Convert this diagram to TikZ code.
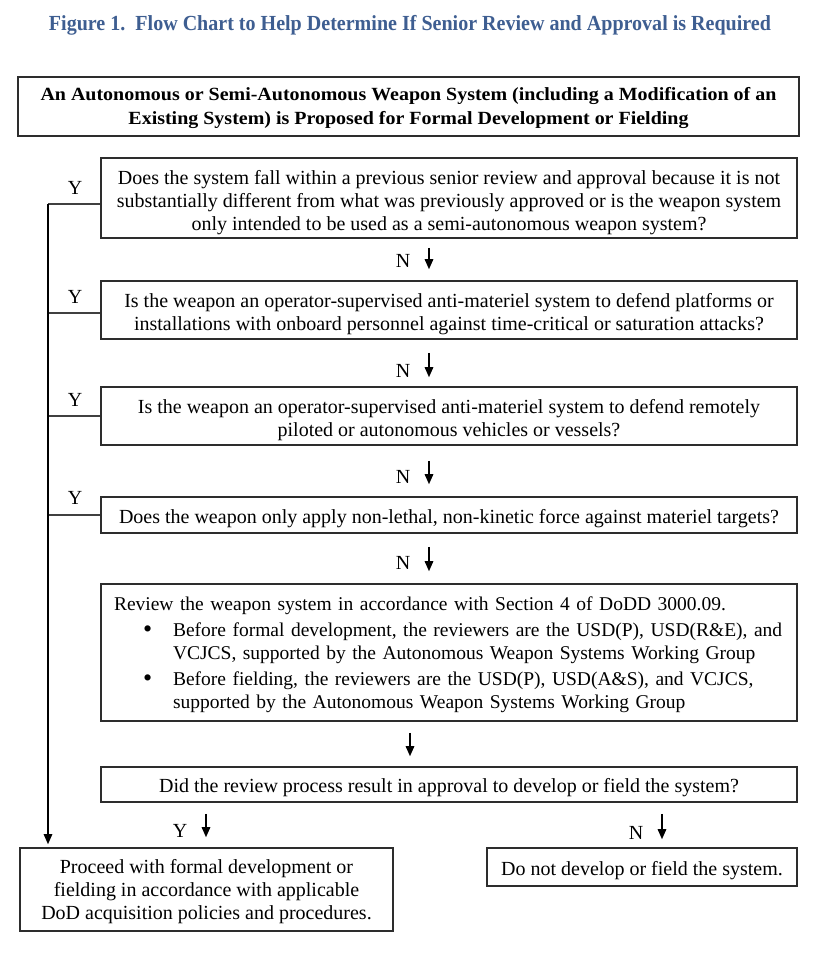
\documentclass[tikz,border=0pt]{standalone}
\usepackage{fontspec}
\setmainfont{Liberation Serif}
\usepackage{graphicx}
\usetikzlibrary{arrows.meta}
\definecolor{titleblue}{RGB}{62,94,145}
\definecolor{boxline}{RGB}{45,45,45}
\newsavebox\lineboxA
\newdimen\lineW
\begin{document}
\sbox\lineboxA{\fontsize{18.6}{23}\selectfont\bfseries An Autonomous or Semi-Autonomous Weapon System (including a Modification of an}%
\lineW=\wd\lineboxA
\pgfmathsetmacro\bfac{736/\lineW}%
\begin{tikzpicture}[x=1pt,y=-1pt,
  box/.style={draw=boxline, line width=1.6pt, inner sep=0pt},
  txt/.style={inner sep=0pt, align=center, font=\fontsize{20}{23}\selectfont},
  arr/.style={-{Triangle[length=10pt,width=8.5pt]}, line width=1.4pt},
  yline/.style={draw=black!75, line width=1.3pt},
  lbl/.style={font=\fontsize{20}{23}\selectfont, inner sep=0pt}]
\useasboundingbox (0,0) rectangle (820,954);

\node[inner sep=0pt, anchor=base, text=titleblue, font=\fontsize{21.5}{24}\selectfont\bfseries] (title) at (410,30)
  {\resizebox{722pt}{\height}{Figure 1.\ \ Flow Chart to Help Determine If Senior Review and Approval is Required}};

% boxes
\node[box, minimum width=781, minimum height=59] (b1) at (408.5,106.5) {};
\node[box, minimum width=696, minimum height=80] (b2) at (449,198) {};
\node[box, minimum width=696, minimum height=58] (b3) at (449,310) {};
\node[box, minimum width=696, minimum height=58] (b4) at (449,416) {};
\node[box, minimum width=696, minimum height=36] (b5) at (449,515) {};
\node[box, minimum width=696, minimum height=137] (b6) at (449,652.5) {};
\node[box, minimum width=696, minimum height=35] (b7) at (449,784.5) {};
\node[box, minimum width=373, minimum height=83] (b8) at (206.5,889.5) {};
\node[box, minimum width=310, minimum height=38] (b9) at (642,867) {};

% texts
\node[txt, font=\fontsize{18.6}{23.3}\selectfont\bfseries] (t1) at ([yshift=-1.5pt]b1.center)
  {\scalebox{\bfac}[1]{An Autonomous or Semi-Autonomous Weapon System (including a Modification of an}\\
   \scalebox{\bfac}[1]{Existing System) is Proposed for Formal Development or Fielding}};

\node[txt] (t2) at ([yshift=-4.5pt]b2.center)
  {Does the system fall within a previous senior review and approval because it is not\\
   substantially different from what was previously approved or is the weapon system\\
   only intended to be used as a semi-autonomous weapon system?};

\node[txt] (t3) at ([yshift=-4pt]b3.center)
  {Is the weapon an operator-supervised anti-materiel system to defend platforms or\\
   installations with onboard personnel against time-critical or saturation attacks?};

\node[txt] (t4) at ([yshift=-4pt]b4.center)
  {Is the weapon an operator-supervised anti-materiel system to defend remotely\\
   piloted or autonomous vehicles or vessels?};

\node[txt] (t5) at ([yshift=-4pt]b5.center)
  {Does the weapon only apply non-lethal, non-kinetic force against materiel targets?};

\node[txt, align=left, text width=670pt, font=\fontsize{19.5}{23}\selectfont] (t6) at ([yshift=-2.5pt]b6.center)
  {Review the weapon system in accordance with Section 4 of DoDD 3000.09.\\[3pt]
   \hspace*{29pt}\makebox[30pt][l]{\fontsize{26}{23}\selectfont\raisebox{-1pt}{\textbullet}}Before formal development, the reviewers are the USD(P), USD(R\&E), and\\
   \hspace*{59pt}VCJCS, supported by the Autonomous Weapon Systems Working Group\\[3pt]
   \hspace*{29pt}\makebox[30pt][l]{\fontsize{26}{23}\selectfont\raisebox{-1pt}{\textbullet}}Before fielding, the reviewers are the USD(P), USD(A\&S), and VCJCS,\\
   \hspace*{59pt}supported by the Autonomous Weapon Systems Working Group};

\node[txt] (t7) at ([yshift=-3pt]b7.center)
  {Did the review process result in approval to develop or field the system?};

\node[txt] (t8) at ([yshift=-2.5pt]b8.center)
  {Proceed with formal development or\\
   fielding in accordance with applicable\\
   DoD acquisition policies and procedures.};

\node[txt] (t9) at ([yshift=-3.5pt]b9.center)
  {Do not develop or field the system.};

% N arrows down the main column
\draw[arr, shorten <=9pt, shorten >=11pt] ([xshift=-20pt]b2.south) -- ([xshift=-20pt]b3.north);
\draw[arr, shorten <=13pt, shorten >=9pt] ([xshift=-20pt]b3.south) -- ([xshift=-20pt]b4.north);
\draw[arr, shorten <=15pt, shorten >=12pt] ([xshift=-20pt]b4.south) -- ([xshift=-20pt]b5.north);
\draw[arr, shorten <=13pt, shorten >=12pt] ([xshift=-20pt]b5.south) -- ([xshift=-20pt]b6.north);
\draw[arr, shorten <=11pt, shorten >=10pt] ([xshift=-39pt]b6.south) -- ([xshift=-39pt]b7.north);
\draw[arr, shorten <=11pt, shorten >=10pt] ([xshift=-0.5pt]b8.north |- b7.south) -- ([xshift=-0.5pt]b8.north);
\draw[arr, shorten <=11pt, shorten >=8pt] ([xshift=20pt]b9.north |- b7.south) -- ([xshift=20pt]b9.north);

\node[lbl] (n1) at (403,261) {N};
\node[lbl] (n2) at (403,371) {N};
\node[lbl] (n3) at (403,477) {N};
\node[lbl] (n4) at (403,563) {N};
\node[lbl] (y5) at (180,831) {Y};
\node[lbl] (n5) at (636,833) {N};

% Y branch on the left
\coordinate (L2) at (48,204);
\coordinate (L3) at (48,313);
\coordinate (L4) at (48,416);
\coordinate (L5) at (48,515);
\draw[yline] (L2) -- (L2 -| b2.west);
\draw[yline] (L3) -- (L3 -| b3.west);
\draw[yline] (L4) -- (L4 -| b4.west);
\draw[yline] (L5) -- (L5 -| b5.west);
\draw[arr, line width=1.3pt, shorten >=3pt] (L2) -- (L2 |- b8.north);

\node[lbl] (y1) at (75,188) {Y};
\node[lbl] (y2) at (75,297) {Y};
\node[lbl] (y3) at (75,400) {Y};
\node[lbl] (y4) at (75,498) {Y};
\end{tikzpicture}
\end{document}
